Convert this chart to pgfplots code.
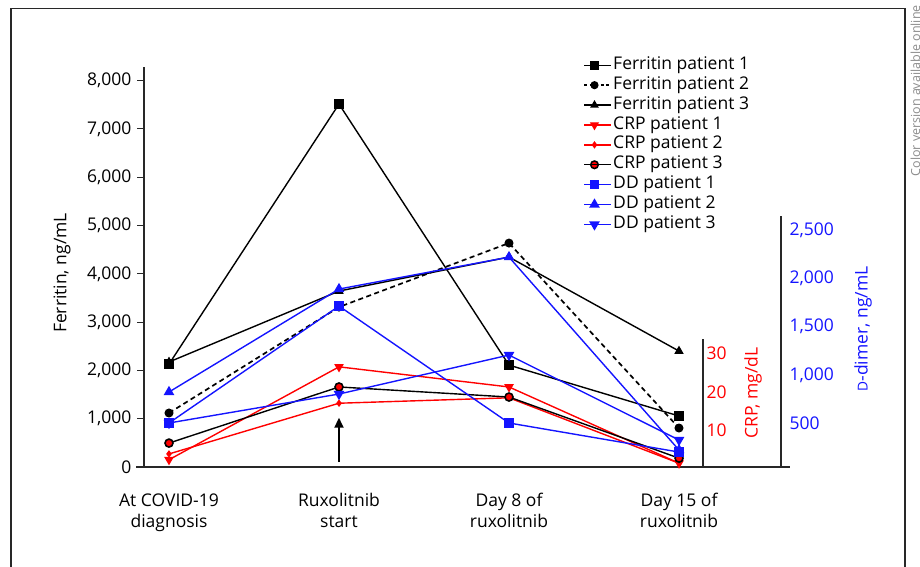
\documentclass[border=0pt]{standalone}
\usepackage{fontspec}
\setmainfont{Open Sans}
\usepackage{pgfplots}
\pgfplotsset{compat=1.18}
\usetikzlibrary{arrows.meta}
\definecolor{cred}{RGB}{255,0,0}
\definecolor{cblue}{RGB}{20,20,255}
\definecolor{axgray}{RGB}{40,40,40}
\newcommand{\scD}{\scalebox{0.78}{D}}
\tikzset{every picture/.style={font=\fontsize{17.5}{21}\selectfont}}
\pgfplotsset{
  common/.style={
    scale only axis, clip=false, anchor=south west,
    xmin=-0.147,
    axis line style={line width=1.2pt, axgray},
    /pgf/number format/assume math mode=true,
    /pgf/number format/1000 sep={,},
  },
  fl/.style={black, line width=1.4pt},
  rl/.style={cred, line width=1.4pt},
  bl/.style={cblue, line width=1.4pt},
}
\begin{document}
\begin{tikzpicture}[x=1pt,y=1pt]
\useasboundingbox (0pt,0pt) rectangle (920pt,-566pt);
\draw[line width=1.3pt, axgray] (11pt,-580pt) -- (11pt,-8.5pt) -- (905pt,-8.5pt) -- (905pt,-580pt);
\node[rotate=90, anchor=base east, text=black!45, font=\fontsize{12.5}{14}\selectfont, inner sep=0pt] at (920pt,-5pt) {Color version available online};

% ---------------- Ferritin axis ----------------
\begin{axis}[common, at={(144pt,-467pt)}, width=646pt, height=400pt,
  xmax=3.653, ymin=0, ymax=8282,
  axis x line*=bottom, axis y line*=left,
  xtick={0,1,2,3},
  xticklabels={At COVID-19\\diagnosis, Ruxolitnib\\start, Day 8 of\\ruxolitnib, Day 15 of\\ruxolitnib},
  xticklabel style={align=center, anchor=north, yshift=-16pt},
  x tick style={draw=none},
  ytick={0,1000,...,8000},
  tick align=outside, major tick length=7pt,
  y tick style={line width=1.1pt, axgray},
  yticklabel style={xshift=-2pt},
  ylabel={Ferritin, ng/mL},
  ylabel style={at={(axis description cs:-0.127,0.485)}, anchor=center},
]
\addplot[fl, mark=square*, mark size=4pt] coordinates {(0,2130) (1,7515) (2,2110) (3,1056)};
\addplot[fl, dash pattern=on 5pt off 3.5pt, line width=1.7pt, mark=*, mark size=3.6pt, mark options={solid}] coordinates {(0,1118) (1,3312) (2,4637) (3,807)};
\addplot[fl, mark=triangle*, mark size=4pt] coordinates {(0,2174) (1,3643) (2,4347) (3,2401)};
\draw[line width=1.2pt, axgray] (axis cs:-0.194,0) -- (axis cs:-0.147,0);
\draw[line width=2.2pt, -{Triangle[length=10pt,width=9pt]}] (axis cs:1,100) -- (axis cs:1,1020);
\end{axis}

% ---------------- CRP axis ----------------
\begin{axis}[common, at={(144pt,-467pt)}, width=559pt, height=128pt,
  xmax=3.141, ymin=0.62, ymax=33.69,
  axis x line=none, axis y line*=right,
  ytick={10,20,30}, major tick length=0pt, y tick style={draw=none},
  yticklabel style={text=cred, anchor=west},
  ylabel={CRP, mg/dL},
  ylabel style={text=cred, at={(axis description cs:1.0894,0.578)}, anchor=center, rotate=0},
]
\addplot[rl, mark=triangle*, mark size=4.2pt, mark options={rotate=180}] coordinates {(0,2.5) (1,26.5) (2,21.3) (3,1.6)};
\addplot[rl, mark=diamond*, mark size=2.6pt] coordinates {(0,4.0) (1,17.1) (2,18.5) (3,1.6)};
\addplot[fl, mark=*, mark size=4pt, mark options={fill=cred, draw=black, line width=1.6pt}] coordinates {(0,6.8) (1,21.3) (2,18.7) (3,2.9)};
\end{axis}

% ---------------- D-dimer axis ----------------
\begin{axis}[common, at={(144pt,-467pt)}, width=637pt, height=251pt,
  xmax=3.6, ymin=41.6, ymax=2650,
  axis x line=none, axis y line*=right,
  ytick={500,1000,...,2500}, major tick length=0pt, y tick style={draw=none},
  yticklabel style={text=cblue, anchor=west, xshift=5pt},
  ylabel={\scD-dimer, ng/mL},
  ylabel style={text=cblue, at={(axis description cs:1.1287,0.55)}, anchor=center, rotate=0},
  legend cell align=left,
  legend style={at={(axis description cs:0.690,1.641)}, anchor=north west, draw=none, fill=none,
    row sep=0pt, inner sep=0pt,
    nodes={inner sep=1.5pt, text height=12.5pt, text depth=4.4pt, text=black}},
  legend image code/.code={\draw[mark repeat=2, mark phase=2] plot coordinates {(0pt,0pt) (10pt,0pt) (20pt,0pt)}; \path (0pt,0pt) -- (26.5pt,0pt);},
]
\addlegendimage{fl, mark=square*, mark size=3.6pt}
\addlegendimage{fl, dash pattern=on 3pt off 2.5pt, line width=1.5pt, mark=*, mark size=3.3pt, mark options={solid}}
\addlegendimage{fl, mark=triangle*, mark size=3.6pt}
\addlegendimage{rl, mark=triangle*, mark size=4pt, mark options={rotate=180}}
\addlegendimage{rl, mark=diamond*, mark size=2.6pt}
\addlegendimage{fl, mark=*, mark size=3.8pt, mark options={fill=cred, draw=black, line width=1.5pt}}
\addplot[bl, mark=square*, mark size=4pt] coordinates {(0,499) (1,1714) (2,499) (3,197)};
\addplot[bl, mark=triangle*, mark size=4.8pt] coordinates {(0,821) (1,1891) (2,2223) (3,218)};
\addplot[bl, mark=triangle*, mark size=4.8pt, mark options={rotate=180}] coordinates {(0,499) (1,800) (2,1205) (3,322)};
\legend{Ferritin patient 1, Ferritin patient 2, Ferritin patient 3, CRP patient 1, CRP patient 2, CRP patient 3, DD patient 1, DD patient 2, DD patient 3}
\end{axis}
\end{tikzpicture}
\end{document}
